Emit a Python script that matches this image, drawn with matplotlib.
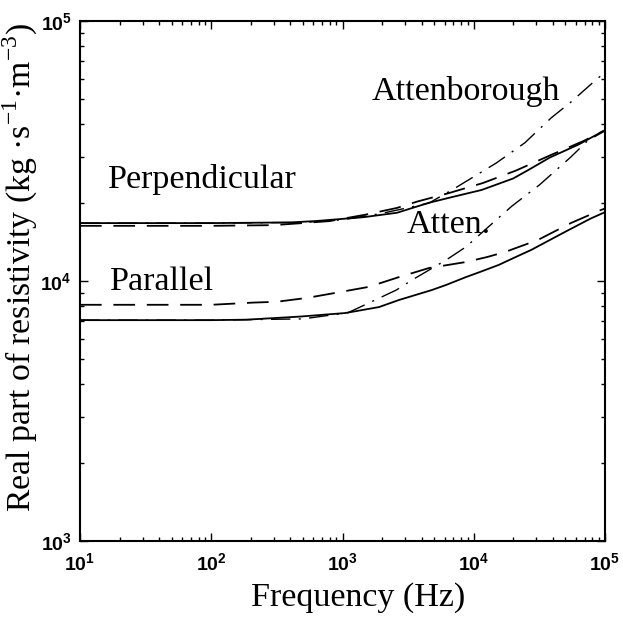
import numpy as np
import matplotlib
matplotlib.use("Agg")
import matplotlib.pyplot as plt
from matplotlib.ticker import LogLocator, FixedFormatter, FixedLocator

plt.rcParams['font.family'] = ['Liberation Serif', 'DejaVu Serif']
plt.rcParams['mathtext.fontset'] = 'custom'
plt.rcParams['mathtext.rm'] = 'Liberation Serif'
plt.rcParams['mathtext.sf'] = 'Liberation Sans:bold'

# perpendicular direction
perp_f = [10, 100, 400, 620, 1450, 2600, 4570, 6500, 11500, 20000, 26300, 38000, 63000, 93000, 100000]
perp_solid = [16700, 16700, 16800, 17000, 17600, 18300, 20000, 20900, 22400, 24800, 26800, 29850, 33500, 37300, 38000]
perp_dash_f = [10, 100, 300, 800, 1500, 2600, 3700, 6500, 11700, 21000, 38000, 69000, 100000]
perp_dash = [16300, 16300, 16400, 17000, 18000, 19100, 20200, 21800, 23800, 26600, 30400, 34600, 38000]
atten_perp_f = [10, 100, 500, 1000, 2000, 4570, 7240, 14800, 24500, 38900, 55000, 85100, 100000]
atten_perp = [16700, 16700, 16800, 17200, 18200, 19950, 22800, 28400, 34000, 42400, 48800, 59300, 63500]

# parallel direction
par_f = [10, 100, 186, 479, 1050, 1900, 2690, 4790, 6170, 8710, 11200, 15500, 20400, 27500, 50100, 77600, 100000]
par_solid = [7070, 7070, 7100, 7300, 7530, 7940, 8450, 9230, 9660, 10350, 10840, 11530, 12300, 13180, 15490, 17380, 18400]
par_dash_f = [10, 100, 209, 316, 537, 871, 1580, 2690, 4570, 8710, 12600, 17400, 30900, 55000, 93000, 100000]
par_dash = [8100, 8100, 8260, 8320, 8610, 8990, 9490, 10350, 11220, 11830, 12360, 12940, 14390, 16710, 18750, 19000]
atten_par_f = [10, 100, 500, 1100, 1580, 2570, 3390, 6170, 8710, 13200, 19500, 31600, 55000, 74000, 100000]
atten_par = [7070, 7070, 7150, 7550, 8220, 9230, 10090, 12050, 13520, 16300, 19400, 23400, 30000, 34700, 37800]

x_ticks = [1e1, 1e2, 1e3, 1e4, 1e5]
x_labels = [r'$\mathsf{10^{1}}$', r'$\mathsf{10^{2}}$', r'$\mathsf{10^{3}}$',
            r'$\mathsf{10^{4}}$', r'$\mathsf{10^{5}}$']
y_ticks = [1e3, 1e4, 1e5]
y_labels = [r'$\mathsf{10^{3}}$', r'$\mathsf{10^{4}}$', r'$\mathsf{10^{5}}$']

fig = plt.figure(figsize=(6.23, 6.17), dpi=100)
ax = fig.add_axes([80 / 623, 1 - 541 / 617, 525 / 623, 520 / 617])

lw = 1.3
dash = (0, (12, 6.5))
dashdot = (0, (14, 6, 1.5, 6))
ax.plot(perp_f, perp_solid, color='black', lw=lw)
ax.plot(perp_dash_f, perp_dash, color='black', lw=lw, linestyle=dash)
ax.plot(atten_perp_f, atten_perp, color='black', lw=1.0, linestyle=dashdot)
ax.plot(par_f, par_solid, color='black', lw=lw)
ax.plot(par_dash_f, par_dash, color='black', lw=lw, linestyle=dash)
ax.plot(atten_par_f, atten_par, color='black', lw=1.0, linestyle=dashdot)

ax.set_xscale('log')
ax.set_yscale('log')
ax.set_xlim(1e1, 1e5)
ax.set_ylim(1e3, 1e5)

ax.xaxis.set_major_locator(FixedLocator(x_ticks))
ax.xaxis.set_major_formatter(FixedFormatter(x_labels))
ax.yaxis.set_major_locator(FixedLocator(y_ticks))
ax.yaxis.set_major_formatter(FixedFormatter(y_labels))
ax.xaxis.set_minor_locator(LogLocator(base=10, subs=np.arange(2, 10)))
ax.yaxis.set_minor_locator(LogLocator(base=10, subs=np.arange(2, 10)))
ax.xaxis.set_minor_formatter(plt.NullFormatter())
ax.yaxis.set_minor_formatter(plt.NullFormatter())

ax.tick_params(which='both', direction='in', top=True, right=True, labelsize=14, width=1.0)
ax.tick_params(which='major', length=6)
ax.tick_params(which='minor', length=3)
ax.tick_params(axis='x', which='major', pad=8)
ax.tick_params(axis='y', which='major', pad=6)
for s in ax.spines.values():
    s.set_linewidth(1.5)

ax.set_xlabel('Frequency (Hz)', fontsize=24.5)
ax.xaxis.set_label_coords(0.53, -0.079)
ax.set_ylabel('Real part of resistivity (kg \u00b7s$^{-1}$\u00b7m$^{-3}$)', fontsize=24.3)
ax.yaxis.set_label_coords(-0.076, 0.527)

ax.text(10**3.22, 10**4.73, 'Attenborough', fontsize=24.5, va='center', ha='left')
ax.text(10**1.21, 10**4.39, 'Perpendicular', fontsize=24.5, va='center', ha='left')
ax.text(10**3.49, 10**4.215, 'Atten.', fontsize=24.5, va='center', ha='left')
ax.text(10**1.23, 10**3.996, 'Parallel', fontsize=24.5, va='center', ha='left')

fig.savefig('out.png', dpi=100)
